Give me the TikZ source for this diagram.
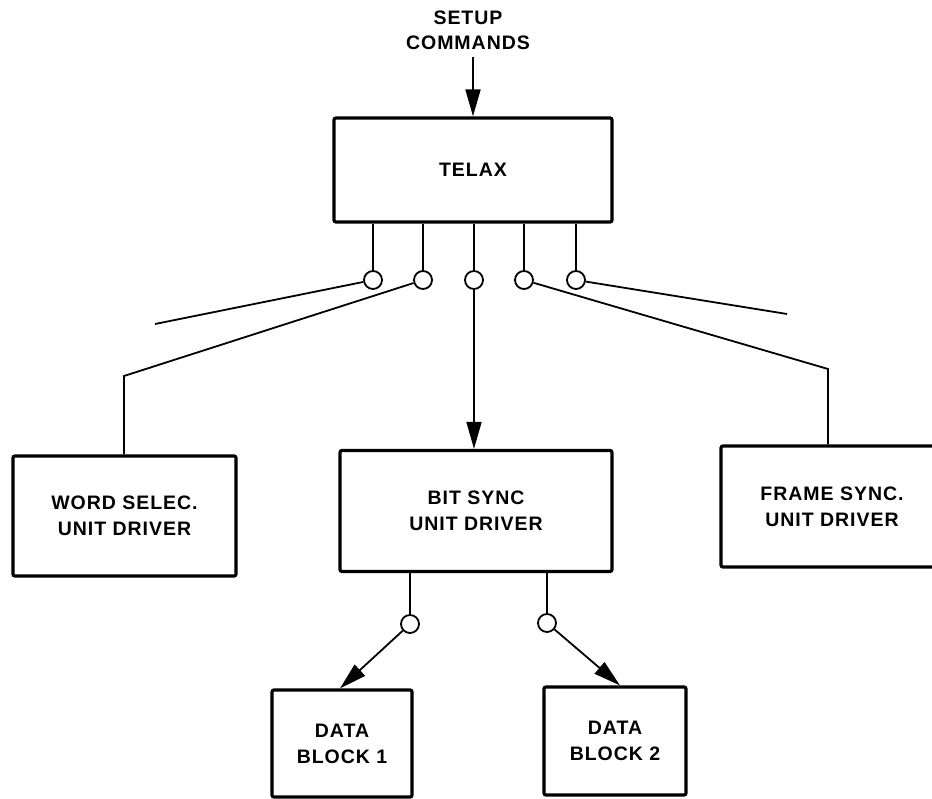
\documentclass[tikz,border=0pt]{standalone}
\usepackage{fontspec}
\setmainfont{Liberation Sans}[LetterSpace=5]
\usetikzlibrary{arrows.meta}
\tikzset{
  blk/.style={draw, line width=3.2pt, rounded corners=2pt, rectangle, inner sep=0pt, align=center,
    font=\fontsize{19.5}{26}\selectfont\bfseries},
  sw/.style={draw, circle, line width=1.8pt, minimum size=18pt, inner sep=0pt},
  wire/.style={line width=1.8pt},
  arr/.style={wire, -{Triangle[length=27pt,width=15pt]}},
  lbl/.style={align=center, inner sep=0pt, font=\fontsize{19.5}{25}\selectfont\bfseries}
}
\begin{document}
\begin{tikzpicture}[x=1pt,y=-1pt]
\useasboundingbox[fill=white] (0,0) rectangle (932,799);

\node[lbl] (setup) at (468,30) {SETUP\\COMMANDS};
\node[blk, minimum width=278pt, minimum height=104pt] (telax) at (473,170) {TELAX};
\node[blk, minimum width=223pt, minimum height=120pt] (word) at (124.5,516) {WORD SELEC.\\UNIT DRIVER};
\node[blk, minimum width=272pt, minimum height=121pt] (bit) at (476,511) {BIT SYNC\\UNIT DRIVER};
\node[blk, minimum width=222pt, minimum height=121pt] (frame) at (832,506.5) {FRAME SYNC.\\UNIT DRIVER};
\node[blk, minimum width=140pt, minimum height=107pt] (data1) at (342,743.5) {DATA\\BLOCK 1};
\node[blk, minimum width=142pt, minimum height=108pt] (data2) at (615,741) {DATA\\BLOCK 2};

\node[sw] (c1) at (373,280) {};
\node[sw] (c2) at (423,280) {};
\node[sw] (c3) at (474,280) {};
\node[sw] (c4) at (524,280) {};
\node[sw] (c5) at (576,280) {};
\node[sw] (c6) at (410,624) {};
\node[sw] (c7) at (547,623) {};

\coordinate (e1) at (155,324);
\coordinate (b2) at (124,376);
\coordinate (b4) at (828,369);
\coordinate (e5) at (787,314);

% input arrow
\draw[arr] ([yshift=-7pt]telax.north |- setup.south) -- (telax.north);

% stems from TELAX
\foreach \c in {c1,c2,c3,c4,c5}
  \draw[wire] (\c |- telax.south) -- (\c);

% switch blades
\draw[wire] (c1) -- (e1);
\draw[wire] (c2) -- (b2) -- (b2 |- word.north);
\draw[arr] (c3) -- (c3 |- bit.north);
\draw[wire] (c4) -- (b4) -- (b4 |- frame.north);
\draw[wire] (c5) -- (e5);

% Bit sync outputs
\draw[wire] (c6 |- bit.south) -- (c6);
\draw[wire] (c7 |- bit.south) -- (c7);
\draw[arr] (c6) -- ([xshift=-2pt]data1.north);
\draw[arr] (c7) -- ([xshift=5pt]data2.north);
\end{tikzpicture}
\end{document}
